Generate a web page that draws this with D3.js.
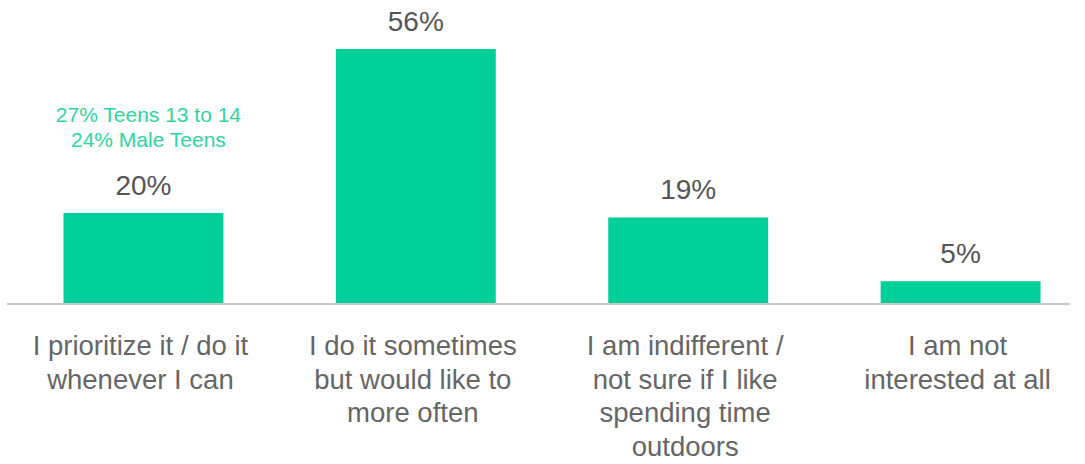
<!DOCTYPE html>
<html>
<head>
<meta charset="utf-8">
<script src="https://cdn.jsdelivr.net/npm/d3@7"></script>
<style>
  html, body { margin: 0; padding: 0; background: #fff; }
  svg { display: block; }
  text { font-family: "Liberation Sans", Arial, sans-serif; }
</style>
</head>
<body>
<svg id="chart" width="1085" height="464"></svg>
<script>
// Answer categories (line-broken as displayed)
const categories = [
  ["I prioritize it / do it", "whenever I can"],
  ["I do it sometimes", "but would like to", "more often"],
  ["I am indifferent /", "not sure if I like", "spending time", "outdoors"],
  ["I am not", "interested at all"]
];
// Share of respondents, percent
const values = [20, 56, 19, 5];
// Callout over the first bar
const calloutLines = ["27% Teens 13 to 14", "24% Male Teens"];

const width = 1085, height = 464;
const baseline = 304;
const barColor = "#00cf9a";

const svg = d3.select("#chart");

const x = d3.scaleBand()
  .domain(d3.range(categories.length))
  .range([9, 1095])
  .paddingInner(0.413)
  .paddingOuter(0.2);

const y = d3.scaleLinear()
  .domain([0, 56])
  .range([baseline, 49]);

// Bars
svg.append("g")
  .selectAll("rect")
  .data(values)
  .join("rect")
  .attr("x", (d, i) => x(i))
  .attr("width", x.bandwidth())
  .attr("y", d => y(d))
  .attr("height", d => baseline - y(d))
  .attr("fill", barColor);

// Baseline axis
svg.append("line")
  .attr("x1", 7).attr("x2", 1070)
  .attr("y1", baseline).attr("y2", baseline)
  .attr("stroke", "#c9c9c9")
  .attr("stroke-width", 2);

// Value labels
svg.append("g")
  .selectAll("text")
  .data(values)
  .join("text")
  .attr("x", (d, i) => x(i) + x.bandwidth() / 2)
  .attr("y", d => y(d) - 18)
  .attr("text-anchor", "middle")
  .attr("font-size", 28)
  .attr("fill", "#555")
  .text(d => d + "%");

// Category labels
const cat = svg.append("g")
  .selectAll("text")
  .data(categories)
  .join("text")
  .attr("x", (d, i) => x(i) + x.bandwidth() / 2 - 3)
  .attr("y", 355)
  .attr("text-anchor", "middle")
  .attr("font-size", 27.5)
  .attr("fill", "#666");
cat.selectAll("tspan")
  .data(d => d)
  .join("tspan")
  .attr("x", function () { return d3.select(this.parentNode).attr("x"); })
  .attr("dy", (d, i) => i === 0 ? 0 : 33.5)
  .text(d => d);

// Callout above the first bar
svg.append("g")
  .selectAll("text")
  .data(calloutLines)
  .join("text")
  .attr("x", x(0) + x.bandwidth() / 2 + 5)
  .attr("y", (d, i) => 122 + i * 25)
  .attr("text-anchor", "middle")
  .attr("font-size", 21)
  .attr("fill", "#2fd4a3")
  .text(d => d);
</script>
</body>
</html>
